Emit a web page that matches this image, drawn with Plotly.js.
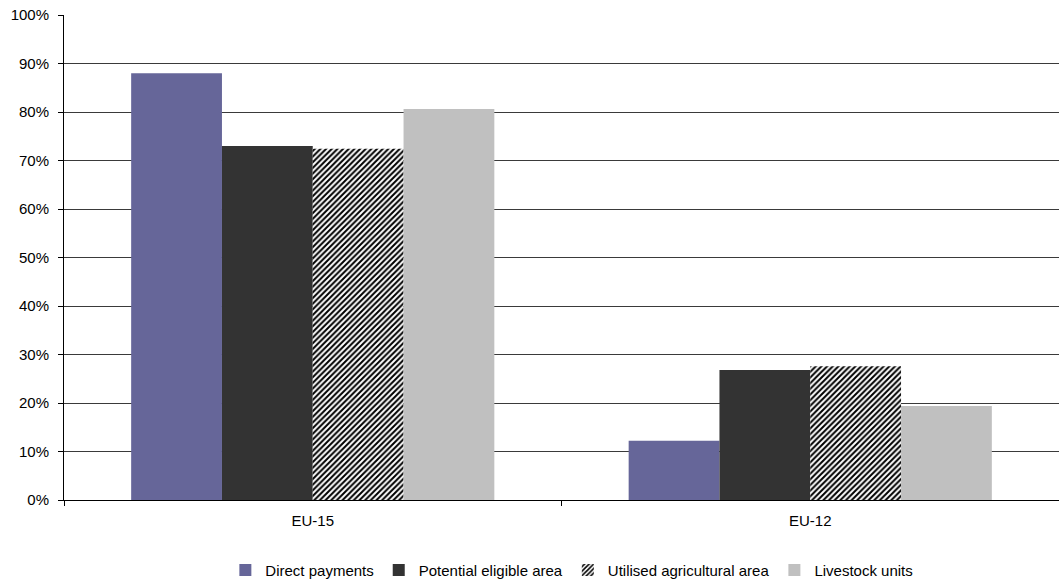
<!DOCTYPE html>
<html>
<head>
<meta charset="utf-8">
<script src="https://cdn.plot.ly/plotly-3.0.1.min.js"></script>
<style>
  html, body { margin: 0; padding: 0; background: #fff; }
  #chart { width: 1059px; height: 580px; }
</style>
</head>
<body>
<div id="chart"></div>
<script>
// Regions compared
const regions = ['EU-15', 'EU-12'];

// Shares (%) of each indicator by region
const directPayments = [88.0, 12.2];
const potentialEligibleArea = [73.0, 26.8];
const utilisedAgriculturalArea = [72.4, 27.6];
const livestockUnits = [80.6, 19.4];

const yTickValues = [0, 10, 20, 30, 40, 50, 60, 70, 80, 90, 100];
const yTickLabels = ['0%', '10%', '20%', '30%', '40%', '50%', '60%', '70%', '80%', '90%', '100%'];

const font = { family: 'Liberation Sans, Arial, sans-serif', size: 15, color: '#000' };

const traces = [
  {
    type: 'bar', name: 'Direct payments', x: regions, y: directPayments,
    marker: { color: '#666699', line: { width: 0 } }
  },
  {
    type: 'bar', name: 'Potential eligible area', x: regions, y: potentialEligibleArea,
    marker: { color: '#333333', line: { width: 0 } }
  },
  {
    type: 'bar', name: 'Utilised agricultural area', x: regions, y: utilisedAgriculturalArea,
    marker: {
      color: '#ffffff', line: { width: 0 },
      pattern: { shape: '/', fgcolor: '#000000', bgcolor: '#ffffff', size: 4, solidity: 0.5 }
    }
  },
  {
    type: 'bar', name: 'Livestock units', x: regions, y: livestockUnits,
    marker: { color: '#c0c0c0', line: { width: 0 } }
  }
];

const layout = {
  width: 1059, height: 580,
  margin: { l: 64, r: 0, t: 15, b: 80, pad: 0, autoexpand: false },
  paper_bgcolor: '#fff', plot_bgcolor: '#fff',
  font: font,
  barmode: 'group', bargap: 0.27, bargroupgap: 0,
  showlegend: true,
  legend: {
    orientation: 'h', x: 0.54, xref: 'container', xanchor: 'center',
    y: 0.017, yref: 'container', yanchor: 'middle',
    font: font, itemwidth: 30, traceorder: 'normal', tracegroupgap: 0
  },
  xaxis: {
    type: 'category',
    showline: true, linecolor: '#000', linewidth: 1,
    ticks: 'outside', tickson: 'boundaries', ticklen: 5, tickcolor: '#000',
    ticklabelstandoff: 7,
    showgrid: false, zeroline: false,
    tickfont: font, automargin: false
  },
  yaxis: {
    range: [0, 100],
    tickvals: yTickValues, ticktext: yTickLabels,
    showline: true, linecolor: '#000', linewidth: 1,
    ticks: 'outside', ticklen: 5, tickcolor: '#000',
    ticklabelstandoff: 6,
    showgrid: true, gridcolor: '#3a3a3a', gridwidth: 1,
    zeroline: false,
    tickfont: font, automargin: false
  }
};

Plotly.newPlot('chart', traces, layout, { displayModeBar: false, staticPlot: true });
</script>
</body>
</html>
